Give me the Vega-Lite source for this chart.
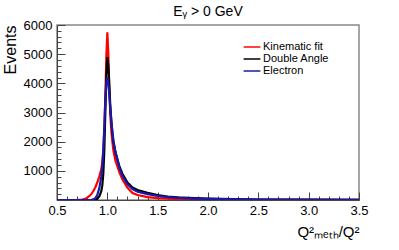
{
  "$schema": "https://vega.github.io/schema/vega-lite/v6.json",
  "width": 302,
  "height": 175,
  "autosize": {"type": "none"},
  "padding": {"left": 57, "top": 25, "right": 40, "bottom": 50},
  "config": {"font": "Liberation Sans", "view": {"stroke": "#888888", "strokeWidth": 1.5}},
  "title": {"text": "Eᵧ > 0 GeV", "fontSize": 14, "fontWeight": "normal", "font": "Liberation Sans", "offset": 0, "anchor": "middle", "color": "#000"},
  "data": {"values": [
    {"s":"Kinematic fit","q":0.5,"n":0},{"s":"Kinematic fit","q":0.6,"n":0},{"s":"Kinematic fit","q":0.7,"n":5},{"s":"Kinematic fit","q":0.75,"n":15},{"s":"Kinematic fit","q":0.78,"n":40},{"s":"Kinematic fit","q":0.8,"n":80},{"s":"Kinematic fit","q":0.82,"n":130},{"s":"Kinematic fit","q":0.84,"n":200},{"s":"Kinematic fit","q":0.86,"n":300},{"s":"Kinematic fit","q":0.88,"n":430},{"s":"Kinematic fit","q":0.9,"n":600},{"s":"Kinematic fit","q":0.92,"n":800},{"s":"Kinematic fit","q":0.94,"n":1050},{"s":"Kinematic fit","q":0.95,"n":1300},{"s":"Kinematic fit","q":0.96,"n":1700},{"s":"Kinematic fit","q":0.97,"n":2400},{"s":"Kinematic fit","q":0.98,"n":3500},{"s":"Kinematic fit","q":0.99,"n":4900},{"s":"Kinematic fit","q":1.0,"n":5750},{"s":"Kinematic fit","q":1.01,"n":5000},{"s":"Kinematic fit","q":1.02,"n":3800},{"s":"Kinematic fit","q":1.03,"n":2900},{"s":"Kinematic fit","q":1.04,"n":2350},{"s":"Kinematic fit","q":1.05,"n":2000},{"s":"Kinematic fit","q":1.06,"n":1700},{"s":"Kinematic fit","q":1.08,"n":1350},{"s":"Kinematic fit","q":1.1,"n":1150},{"s":"Kinematic fit","q":1.12,"n":950},{"s":"Kinematic fit","q":1.15,"n":700},{"s":"Kinematic fit","q":1.2,"n":420},{"s":"Kinematic fit","q":1.25,"n":240},{"s":"Kinematic fit","q":1.3,"n":170},{"s":"Kinematic fit","q":1.4,"n":100},{"s":"Kinematic fit","q":1.5,"n":65},{"s":"Kinematic fit","q":1.6,"n":45},{"s":"Kinematic fit","q":1.7,"n":32},{"s":"Kinematic fit","q":1.8,"n":24},{"s":"Kinematic fit","q":2.0,"n":16},{"s":"Kinematic fit","q":2.25,"n":10},{"s":"Kinematic fit","q":2.5,"n":6},{"s":"Kinematic fit","q":3.0,"n":3},{"s":"Kinematic fit","q":3.5,"n":2},
    {"s":"Double Angle","q":0.5,"n":0},{"s":"Double Angle","q":0.86,"n":0},{"s":"Double Angle","q":0.88,"n":10},{"s":"Double Angle","q":0.9,"n":40},{"s":"Double Angle","q":0.92,"n":120},{"s":"Double Angle","q":0.94,"n":300},{"s":"Double Angle","q":0.95,"n":500},{"s":"Double Angle","q":0.96,"n":900},{"s":"Double Angle","q":0.97,"n":1700},{"s":"Double Angle","q":0.98,"n":3000},{"s":"Double Angle","q":0.99,"n":4300},{"s":"Double Angle","q":1.0,"n":4900},{"s":"Double Angle","q":1.01,"n":4600},{"s":"Double Angle","q":1.02,"n":3900},{"s":"Double Angle","q":1.03,"n":3200},{"s":"Double Angle","q":1.04,"n":2700},{"s":"Double Angle","q":1.05,"n":2300},{"s":"Double Angle","q":1.06,"n":2000},{"s":"Double Angle","q":1.08,"n":1650},{"s":"Double Angle","q":1.1,"n":1400},{"s":"Double Angle","q":1.12,"n":1150},{"s":"Double Angle","q":1.15,"n":900},{"s":"Double Angle","q":1.2,"n":600},{"s":"Double Angle","q":1.25,"n":430},{"s":"Double Angle","q":1.3,"n":340},{"s":"Double Angle","q":1.4,"n":250},{"s":"Double Angle","q":1.5,"n":170},{"s":"Double Angle","q":1.6,"n":120},{"s":"Double Angle","q":1.7,"n":90},{"s":"Double Angle","q":1.8,"n":70},{"s":"Double Angle","q":2.0,"n":45},{"s":"Double Angle","q":2.25,"n":28},{"s":"Double Angle","q":2.5,"n":18},{"s":"Double Angle","q":3.0,"n":10},{"s":"Double Angle","q":3.5,"n":6},
    {"s":"Electron","q":0.5,"n":0},{"s":"Electron","q":0.84,"n":0},{"s":"Electron","q":0.86,"n":20},{"s":"Electron","q":0.88,"n":60},{"s":"Electron","q":0.9,"n":170},{"s":"Electron","q":0.92,"n":400},{"s":"Electron","q":0.94,"n":800},{"s":"Electron","q":0.95,"n":1150},{"s":"Electron","q":0.96,"n":1700},{"s":"Electron","q":0.97,"n":2500},{"s":"Electron","q":0.98,"n":3400},{"s":"Electron","q":0.99,"n":4000},{"s":"Electron","q":1.0,"n":4200},{"s":"Electron","q":1.01,"n":4000},{"s":"Electron","q":1.02,"n":3600},{"s":"Electron","q":1.03,"n":3100},{"s":"Electron","q":1.04,"n":2700},{"s":"Electron","q":1.05,"n":2350},{"s":"Electron","q":1.06,"n":2050},{"s":"Electron","q":1.08,"n":1650},{"s":"Electron","q":1.1,"n":1380},{"s":"Electron","q":1.12,"n":1100},{"s":"Electron","q":1.15,"n":830},{"s":"Electron","q":1.2,"n":540},{"s":"Electron","q":1.25,"n":370},{"s":"Electron","q":1.3,"n":280},{"s":"Electron","q":1.4,"n":200},{"s":"Electron","q":1.5,"n":140},{"s":"Electron","q":1.6,"n":100},{"s":"Electron","q":1.7,"n":75},{"s":"Electron","q":1.8,"n":58},{"s":"Electron","q":2.0,"n":38},{"s":"Electron","q":2.25,"n":24},{"s":"Electron","q":2.5,"n":15},{"s":"Electron","q":3.0,"n":8},{"s":"Electron","q":3.5,"n":5}
  ]},
  "mark": {"type": "line", "strokeWidth": 2.2, "clip": true},
  "encoding": {
    "x": {"field": "q", "type": "quantitative", "scale": {"domain": [0.5, 3.5], "nice": false, "zero": false},
      "axis": {"title": "Q²ₘₑₜₕ/Q²", "titleFont": "Liberation Sans", "titleFontSize": 15, "titleFontWeight": "normal", "titleAnchor": "end", "titleAlign": "right", "titlePadding": 3, "titleColor": "#000",
        "values": [0.5,0.6,0.7,0.8,0.9,1,1.1,1.2,1.3,1.4,1.5,1.6,1.7,1.8,1.9,2,2.1,2.2,2.3,2.4,2.5,2.6,2.7,2.8,2.9,3,3.1,3.2,3.3,3.4,3.5],
        "labelExpr": "round(datum.value*10) % 5 === 0 ? datum.label : ''",
        "labelOverlap": false, "labelFontSize": 13, "labelColor": "#000", "labelPadding": 12, "labelFlush": false,
        "tickSize": {"condition": {"test": "round(datum.value*10) % 5 === 0", "value": -8}, "value": -4},
        "tickColor": "#444", "domainColor": "#444", "grid": false}},
    "y": {"field": "n", "type": "quantitative", "scale": {"domain": [0, 6000], "nice": false},
      "axis": {"title": "Events", "titleFont": "Liberation Sans", "titleFontSize": 16, "titleFontWeight": "normal", "titleAnchor": "end", "titleAlign": "right", "titlePadding": 5, "titleColor": "#000",
        "values": [200,400,600,800,1000,1200,1400,1600,1800,2000,2200,2400,2600,2800,3000,3200,3400,3600,3800,4000,4200,4400,4600,4800,5000,5200,5400,5600,5800,6000],
        "labelExpr": "datum.value % 1000 === 0 ? datum.label : ''", "format": "d",
        "labelOverlap": false, "labelFontSize": 13, "labelColor": "#000", "labelPadding": 13, "labelFlush": false,
        "tickSize": {"condition": {"test": "datum.value % 1000 === 0", "value": -8}, "value": -4},
        "tickColor": "#444", "domainColor": "#444", "grid": false}},
    "color": {"field": "s", "type": "nominal", "sort": ["Kinematic fit", "Double Angle", "Electron"],
      "scale": {"domain": ["Kinematic fit", "Double Angle", "Electron"], "range": ["#ff0000", "#000000", "#1a1aaa"]},
      "legend": {"title": null, "orient": "none", "legendX": 188, "legendY": 15, "symbolType": "M-1.4,0H1.4", "symbolSize": 144, "symbolStrokeWidth": 1.5, "labelFontSize": 11, "labelFont": "Liberation Sans", "labelColor": "#000", "rowPadding": -2, "labelOffset": 4}}
  }
}
